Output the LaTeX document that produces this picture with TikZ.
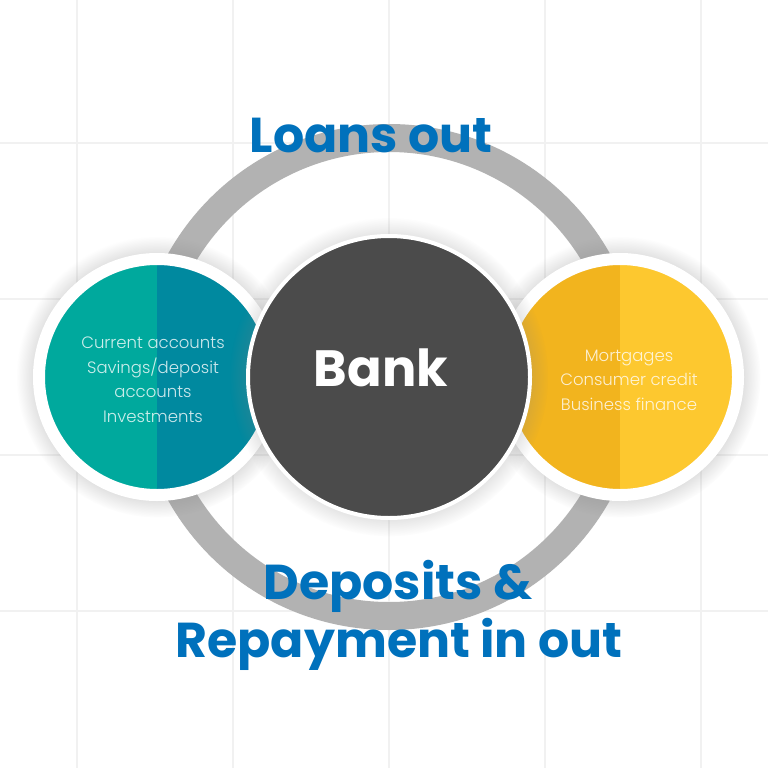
\documentclass[tikz,border=0pt]{standalone}
\usepackage{fontspec}
\setmainfont{Poppins}
\newfontfamily\lightfont{Poppins Light}
\usetikzlibrary{positioning,shadows}

\definecolor{gridgrey}{HTML}{F1F1F1}
\definecolor{ringgrey}{HTML}{B2B2B2}
\definecolor{tealA}{HTML}{00A99D}
\definecolor{tealB}{HTML}{00899F}
\definecolor{goldA}{HTML}{F2B41E}
\definecolor{goldB}{HTML}{FDC82F}
\definecolor{bankgrey}{HTML}{4B4B4B}
\definecolor{titleblue}{HTML}{0071BC}

\tikzset{
  x=1pt, y=-1pt,
  node distance=232pt, % centre to centre, bank to the side discs
  gridline/.style={draw=gridgrey, line width=1.3pt},
  ring/.style={draw=ringgrey, line width=28pt},
  disc/.style={circle, inner sep=0pt, minimum size=236pt, draw=white, line width=12pt,
    circular drop shadow={shadow xshift=0pt, shadow yshift=0pt, shadow scale=1.19, opacity=.28}},
  disctext/.style={text=white, text opacity=.8, align=center,
    font=\lightfont\fontsize{16.5}{24.5}\selectfont},
  halves/.style 2 args={fill=#1, path picture={
    \fill[#2] (path picture bounding box.north) rectangle (path picture bounding box.south east);}},
  title/.style={text=titleblue, font=\bfseries\fontsize{49}{58}\selectfont, anchor=base},
}

\begin{document}
\begin{tikzpicture}
    \useasboundingbox[fill=white] (0,0) rectangle (768,768);
    % background grid
    \foreach \g in {77,233,389,545,701} \draw[gridline] (\g,0) -- (\g,768);
    \foreach \g in {143,299,455,611} \draw[gridline] (0,\g) -- (768,\g);

    \coordinate (mid) at (389,377);
    \draw[ring] (mid) circle (239pt);

    \node[disc, halves={tealA}{tealB}, left of=mid] (deposits) {};
    \node[disctext] (savings) at ([xshift=-4pt, yshift=-2.5pt]deposits.center)
      {Current accounts\\Savings/deposit\\accounts\\Investments};
    \node[disc, halves={goldA}{goldB}, right of=mid, xshift=-1pt] (loans) {};
    \node[disctext] (credit) at ([xshift=9pt, yshift=-3pt]loans.center)
      {Mortgages\\Consumer credit\\Business finance};
    \node[circle, inner sep=0pt, minimum size=282pt, fill=bankgrey, draw=white, line width=4pt,
      circular drop shadow={shadow xshift=0pt, shadow yshift=0pt, shadow scale=1.13, opacity=.28}] (bank) at (mid) {};
    \node[text=white, font=\bfseries\fontsize{51}{51}\selectfont, anchor=base] at (381,386) {Bank};

    \node[title] (out) at (371,152) {Loans out};
    \node[title] (in1) at (398,599) {Deposits \&};
    \node[title] (in2) at (399,657) {Repayment in out};
\end{tikzpicture}
\end{document}
